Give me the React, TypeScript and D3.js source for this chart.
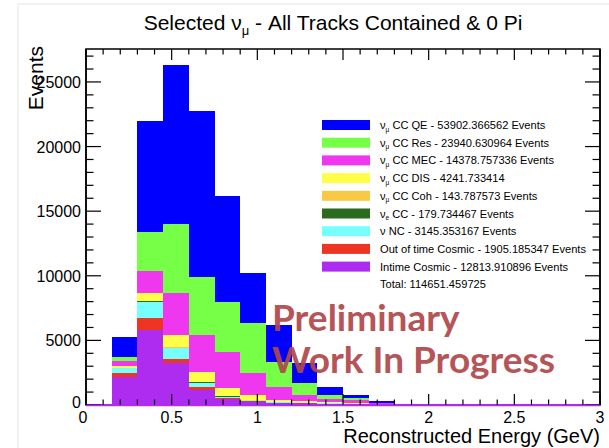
import React from 'react';
import * as d3 from 'd3';

// Bin lower edges (GeV), width 0.15
const binStarts = [0, 0.15, 0.3, 0.45, 0.6, 0.75, 0.9, 1.05, 1.2, 1.35, 1.5, 1.65, 1.8, 1.95, 2.1, 2.25, 2.4, 2.55, 2.7, 2.85];
const binWidth = 0.15;

// Stacked series, bottom to top
const intimeCosmic = [60, 2140, 5800, 3230, 1160, 450, 250, 150, 120, 100, 100, 80, 60, 60, 60, 60, 60, 60, 60, 60];
const outOfTimeCosmic = [0, 310, 930, 330, 210, 80, 40, 20, 10, 5, 2, 0, 0, 0, 0, 0, 0, 0, 0, 0];
const nuNC = [0, 385, 1240, 830, 355, 120, 100, 50, 40, 25, 13, 3, 0, 0, 0, 0, 0, 0, 0, 0];
const nueCC = [0, 20, 55, 50, 35, 15, 10, 5, 2, 1, 0, 0, 0, 0, 0, 0, 0, 0, 0, 0];
const ccCoh = [0, 15, 45, 35, 20, 10, 5, 3, 2, 1, 0, 0, 0, 0, 0, 0, 0, 0, 0, 0];
const ccDIS = [0, 145, 595, 945, 795, 640, 370, 160, 116, 68, 35, 5, 0, 0, 0, 0, 0, 0, 0, 0];
const ccMEC = [0, 385, 1725, 3275, 2840, 2785, 1675, 1030, 484, 264, 237, 50, 0, 0, 0, 0, 0, 0, 0, 0];
const ccRes = [0, 310, 2995, 5320, 4480, 3895, 3900, 1935, 930, 310, 129, 40, 0, 0, 0, 0, 0, 0, 0, 0];
const ccQE = [0, 1525, 8590, 12305, 12855, 8180, 3850, 2840, 1547, 642, 258, 155, 0, 0, 0, 0, 0, 0, 0, 0];

const seriesKeys = ['intime', 'ootc', 'nc', 'nue', 'coh', 'dis', 'mec', 'res', 'qe'];
const seriesValues: Record<string, number[]> = {
  intime: intimeCosmic, ootc: outOfTimeCosmic, nc: nuNC, nue: nueCC, coh: ccCoh,
  dis: ccDIS, mec: ccMEC, res: ccRes, qe: ccQE,
};
const seriesColors: Record<string, string> = {
  qe: '#0000ff', res: '#77ff47', mec: '#ef37ef', dis: '#ffff4a', coh: '#f7c944',
  nue: '#2b6b1e', nc: '#77ffff', ootc: '#ee3524', intime: '#ad2cf0',
};

// Legend (top to bottom)
const legendKeys = ['qe', 'res', 'mec', 'dis', 'coh', 'nue', 'nc', 'ootc', 'intime'];
const legendNu: Record<string, string> = { qe: 'μ', res: 'μ', mec: 'μ', dis: 'μ', coh: 'μ', nue: 'e', nc: '', ootc: '', intime: '' };
const legendText: Record<string, string> = {
  qe: ' CC QE - 53902.366562 Events',
  res: ' CC Res - 23940.630964 Events',
  mec: ' CC MEC - 14378.757336 Events',
  dis: ' CC DIS - 4241.733414',
  coh: ' CC Coh - 143.787573 Events',
  nue: ' CC - 179.734467 Events',
  nc: 'ν NC - 3145.353167 Events',
  ootc: 'Out of time Cosmic - 1905.185347 Events',
  intime: 'Intime Cosmic - 12813.910896 Events',
};
const totalText = 'Total: 114651.459725';

const xTickValues = [0, 0.5, 1, 1.5, 2, 2.5, 3];
const xTickLabels = ['0', '0.5', '1', '1.5', '2', '2.5', '3'];
const yTickValues = [0, 5000, 10000, 15000, 20000, 25000];
const yTickLabels = ['0', '5000', '10000', '15000', '20000', '25000'];

const FONT = '"Liberation Sans", Arial, Helvetica, sans-serif';

export default function App() {
  const W = 609, H = 448;
  const left = 86, right = 600, top = 49, bottom = 405;
  const x = d3.scaleLinear().domain([0, 3]).range([left, right]);
  const y = d3.scaleLinear().domain([0, 27550]).range([bottom, top]);

  const rows = binStarts.map((b, i) => {
    const r: any = { x0: b };
    seriesKeys.forEach(k => { r[k] = seriesValues[k][i]; });
    return r;
  });
  const stacked = d3.stack<any>().keys(seriesKeys)(rows);

  const xMinor = d3.range(0, 3.0001, 0.1);
  const yMinor = d3.range(0, 27001, 1000);

  const legendX = 322, legendTextX = 380;
  const legendY0 = 125, legendDy = 17.7;

  return (
    <svg width={W} height={H} style={{ position: 'absolute', left: 0, top: 0, background: '#fff' }} fontFamily={FONT}>
      <rect x={0} y={0} width={W} height={H} fill="#fff" />
      <rect x={18} y={4} width={W} height={H} fill="none" stroke="#e6e6e6" strokeWidth={1} />

      {/* Title */}
      <text x={333} y={30} textAnchor="middle" fontSize={21} fill="#000">
        Selected ν<tspan fontSize={13} dy={5}>μ</tspan><tspan dy={-5}> - All Tracks Contained &amp; 0 Pi</tspan>
      </text>

      {/* Frame */}
      <rect x={left} y={top} width={right - left} height={bottom - top} fill="none" stroke="#000" strokeWidth={1.5} />

      {/* Bars */}
      <g shapeRendering="crispEdges">
        {stacked.map(s => (
          <g key={s.key} fill={seriesColors[s.key]}>
            {s.map((d, i) => {
              const h = y(d[0]) - y(d[1]);
              if (h <= 0) return null;
              return (
                <rect key={i} x={x(binStarts[i])} width={x(binStarts[i] + binWidth) - x(binStarts[i])}
                  y={y(d[1])} height={h} />
              );
            })}
          </g>
        ))}
      </g>

      {/* Ticks */}
      <g stroke="#000" strokeWidth={1.2}>
        {xMinor.map((v, i) => {
          const major = Math.abs(v * 2 - Math.round(v * 2)) < 1e-6;
          const len = major ? 11 : 5.5;
          return (
            <g key={'xm' + i}>
              <line x1={x(v)} x2={x(v)} y1={bottom} y2={bottom - len} />
              <line x1={x(v)} x2={x(v)} y1={top} y2={top + len} />
            </g>
          );
        })}
        {yMinor.map((v, i) => {
          const major = v % 5000 === 0;
          const len = major ? 15 : 7.5;
          return (
            <g key={'ym' + i}>
              <line x1={left} x2={left + len} y1={y(v)} y2={y(v)} />
              <line x1={right} x2={right - len} y1={y(v)} y2={y(v)} />
            </g>
          );
        })}
      </g>
      <line x1={left} x2={left} y1={top} y2={bottom} stroke="#000" strokeWidth={1.5} />
      <line x1={right} x2={right} y1={top} y2={bottom} stroke="#000" strokeWidth={1.5} />
      <line x1={left} x2={right} y1={bottom + 0.5} y2={bottom + 0.5} stroke={seriesColors.intime} strokeWidth={1.5} />

      {/* Tick labels */}
      <g fontSize={16} fill="#000">
        {xTickValues.map((v, i) => (
          <text key={'xl' + i} x={x(v) - (i === 0 ? 3 : 0)} y={423} textAnchor="middle">{xTickLabels[i]}</text>
        ))}
        {yTickValues.map((v, i) => (
          <text key={'yl' + i} x={81} y={y(v) + 6 - (i === 0 ? 3 : 0)} textAnchor="end">{yTickLabels[i]}</text>
        ))}
      </g>

      {/* Axis titles */}
      <text x={600} y={443} textAnchor="end" fontSize={20} fill="#000">Reconstructed Energy (GeV)</text>
      <text transform="translate(43,46) rotate(-90)" textAnchor="end" fontSize={21} fill="#000">Events</text>

      {/* Legend */}
      <g fontSize={11.1} fill="#000">
        {legendKeys.map((k, i) => {
          const cy = legendY0 + i * legendDy;
          const nu = legendNu[k];
          const isNu = k !== 'ootc' && k !== 'intime' && k !== 'nc';
          return (
            <g key={k}>
              <rect x={legendX} y={cy - 5} width={48} height={10} fill={seriesColors[k]} />
              <text x={legendTextX} y={cy + 4}>
                {isNu ? (
                  <>ν<tspan fontSize={6.5} dy={2.5}>{nu}</tspan><tspan dy={-2.5}>{legendText[k]}</tspan></>
                ) : legendText[k]}
              </text>
            </g>
          );
        })}
        <text x={legendTextX} y={legendY0 + 9 * legendDy + 4}>{totalText}</text>
      </g>

      {/* Watermark */}
      <g fontFamily="Lato, 'Open Sans', sans-serif" fontWeight={700} fontSize={37} fill="#b0474a" opacity={0.92}>
        <text x={272} y={331}>Preliminary</text>
        <text x={272} y={373}>Work In Progress</text>
      </g>
    </svg>
  );
}
